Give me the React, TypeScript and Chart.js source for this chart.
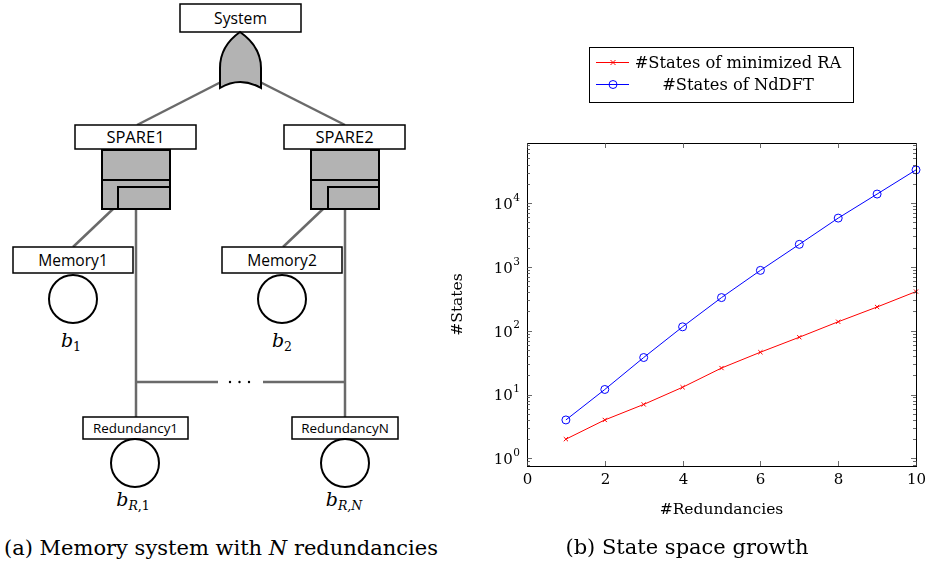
import React, { useEffect, useRef } from "react";
import { Chart, registerables } from "chart.js";

Chart.register(...registerables);

const redundancies = [1, 2, 3, 4, 5, 6, 7, 8, 9, 10];
const statesMinimizedRA = [2, 4, 7, 13, 26, 46, 79, 138, 235, 410];
const statesNdDFT = [4, 12, 38, 115, 330, 880, 2250, 5800, 13800, 33000];
const xTickValues = [0, 2, 4, 6, 8, 10];
const yDecades = [0, 1, 2, 3, 4];
const seriesLabels = ["#States of minimized RA", "#States of NdDFT"];

const SERIF = '"DejaVu Serif", serif';
const SANS = '"Open Sans", "DejaVu Sans", sans-serif';

const decorPlugin = {
  id: "decor",
  afterDraw(chart: any) {
    const ctx = chart.ctx as CanvasRenderingContext2D;
    const { left, right, top, bottom } = chart.chartArea;
    const xs = chart.scales.x;
    const ys = chart.scales.y;
    ctx.save();
    // frame
    ctx.strokeStyle = "#000";
    ctx.lineWidth = 1;
    ctx.strokeRect(Math.round(left) + 0.5, Math.round(top) + 0.5, Math.round(right - left), Math.round(bottom - top));
    // x ticks
    ctx.strokeStyle = "#444";
    ctx.lineWidth = 0.8;
    ctx.fillStyle = "#000";
    ctx.font = `15px ${SERIF}`;
    ctx.textAlign = "center";
    ctx.textBaseline = "middle";
    for (const v of xTickValues) {
      const px = Math.round(xs.getPixelForValue(v)) + 0.5;
      ctx.beginPath();
      ctx.moveTo(px, bottom);
      ctx.lineTo(px, bottom - 5);
      ctx.moveTo(px, top);
      ctx.lineTo(px, top + 5);
      ctx.stroke();
      ctx.fillText(String(v), px, bottom + 14);
    }
    // y ticks
    const yMin = ys.min;
    const yMax = ys.max;
    for (let d = -1; d <= 5; d++) {
      for (let m = 1; m <= 9; m++) {
        const v = m * Math.pow(10, d);
        if (v < yMin || v > yMax) continue;
        const py = Math.round(ys.getPixelForValue(v)) + 0.5;
        const len = m === 1 ? 5 : 3;
        ctx.beginPath();
        ctx.moveTo(left, py);
        ctx.lineTo(left + len, py);
        ctx.moveTo(right, py);
        ctx.lineTo(right - len, py);
        ctx.stroke();
      }
    }
    for (const d of yDecades) {
      const py = ys.getPixelForValue(Math.pow(10, d));
      ctx.font = `10.5px ${SERIF}`;
      ctx.textAlign = "right";
      const expW = ctx.measureText(String(d)).width;
      ctx.fillText(String(d), left - 7, py - 5);
      ctx.font = `15px ${SERIF}`;
      ctx.fillText("10", left - 7 - expW - 0.5, py + 2);
    }
    // axis titles
    ctx.textAlign = "center";
    ctx.font = `15.5px ${SERIF}`;
    ctx.fillText("#Redundancies", (left + right) / 2, 510);
    ctx.save();
    ctx.translate(458 - 440, (top + bottom) / 2);
    ctx.rotate(-Math.PI / 2);
    ctx.fillText("#States", 0, 0);
    ctx.restore();
    // caption
    ctx.font = `21px ${SERIF}`;
    ctx.fillText("(b) State space growth", 687 - 440, 549);
    // legend
    const lx = 589 - 440, ly = 47, lw = 264, lh = 55;
    ctx.strokeStyle = "#000";
    ctx.lineWidth = 1;
    ctx.fillStyle = "#fff";
    ctx.fillRect(lx, ly, lw, lh);
    ctx.strokeRect(lx + 0.5, ly + 0.5, lw, lh);
    const rows = [62, 84];
    chart.data.datasets.forEach((ds: any, i: number) => {
      const ry = rows[i] + 0.5;
      ctx.strokeStyle = ds.borderColor;
      ctx.lineWidth = 1;
      ctx.beginPath();
      ctx.moveTo(596 - 440, ry);
      ctx.lineTo(629 - 440, ry);
      ctx.stroke();
      const mx = 613 - 440;
      if (ds.pointStyle === "crossRot") {
        const r = 2.5;
        ctx.beginPath();
        ctx.moveTo(mx - r, ry - r);
        ctx.lineTo(mx + r, ry + r);
        ctx.moveTo(mx - r, ry + r);
        ctx.lineTo(mx + r, ry - r);
        ctx.stroke();
      } else {
        ctx.beginPath();
        ctx.arc(mx, ry, 4, 0, Math.PI * 2);
        ctx.stroke();
      }
      ctx.fillStyle = "#000";
      ctx.font = `16.3px ${SERIF}`;
      ctx.textAlign = "center";
      ctx.fillText(ds.label, 738 - 440, ry + 1);
    });
    ctx.restore();
  },
};

function StateChart() {
  const ref = useRef<HTMLCanvasElement | null>(null);
  useEffect(() => {
    if (!ref.current) return;
    const chart = new Chart(ref.current, {
      type: "line",
      data: {
        datasets: [
          {
            label: seriesLabels[0],
            data: redundancies.map((x, i) => ({ x, y: statesMinimizedRA[i] })),
            borderColor: "#ff0000",
            backgroundColor: "#ff0000",
            borderWidth: 1,
            pointStyle: "crossRot",
            pointRadius: 3,
            pointBorderWidth: 1,
            pointBorderColor: "#ff0000",
            clip: false,
          } as any,
          {
            label: seriesLabels[1],
            data: redundancies.map((x, i) => ({ x, y: statesNdDFT[i] })),
            borderColor: "#0000ff",
            backgroundColor: "rgba(0,0,0,0)",
            borderWidth: 1,
            pointStyle: "circle",
            pointRadius: 4,
            pointBorderWidth: 1,
            pointBorderColor: "#0000ff",
            pointBackgroundColor: "rgba(0,0,0,0)",
            clip: false,
          } as any,
        ],
      },
      options: {
        animation: false,
        responsive: false,
        devicePixelRatio: 1,
        layout: { padding: { left: 87, right: 11, top: 143, bottom: 99 } },
        plugins: { legend: { display: false }, tooltip: { enabled: false } },
        scales: {
          x: { type: "linear", min: 0, max: 10, display: false },
          y: { type: "logarithmic", min: 0.76, max: 87000, display: false },
        },
      },
      plugins: [decorPlugin],
    });
    return () => chart.destroy();
  }, []);
  return (
    <canvas
      ref={ref}
      width={487}
      height={565}
      style={{ position: "absolute", left: 440, top: 0, width: 487, height: 565 }}
    />
  );
}

function FaultTree() {
  const g = "#6a6a6a";
  const box = (x: number, y: number, w: number, h: number, label: string, fs: number) => (
    <g>
      <rect x={x} y={y} width={w} height={h} fill="#fff" stroke="#000" strokeWidth={1.5} />
      <text x={x + w / 2} y={y + h / 2 + fs * 0.36} fontSize={fs} fontFamily={SANS} textAnchor="middle" fill="#000">
        {label}
      </text>
    </g>
  );
  const spare = (x: number, lx: number) => (
    <g>
      <rect x={x} y={150} width={68} height={59} fill="#b3b3b3" stroke="#000" strokeWidth={2} />
      <line x1={x} y1={180} x2={x + 68} y2={180} stroke="#000" strokeWidth={2} />
      <polyline points={`${lx},209 ${lx},187 ${x + 68},187`} fill="none" stroke="#000" strokeWidth={2} />
    </g>
  );
  const bLabel = (x: number, y: number, subItalic: string, subRest: string) => (
    <text x={x} y={y} fontSize={19} fontFamily={SERIF} fontStyle="italic" textAnchor="middle" fill="#000">
      b
      <tspan fontSize={12.5} dy={4}>
        <tspan fontStyle="italic">{subItalic}</tspan>
        <tspan fontStyle={subRest.indexOf("N") >= 0 ? "italic" : "normal"}>{subRest}</tspan>
      </tspan>
    </text>
  );
  return (
    <svg width={440} height={565} style={{ position: "absolute", left: 0, top: 0 }}>
      {/* connecting lines */}
      <g stroke={g} strokeWidth={2.5} fill="none">
        <line x1={221} y1={82} x2={137} y2={125} />
        <line x1={260} y1={82} x2={345} y2={125} />
        <line x1={113} y1={209} x2={73} y2={247} />
        <line x1={323} y1={209} x2={283} y2={247} />
        <line x1={136} y1={209} x2={136} y2={417} />
        <line x1={345} y1={209} x2={345} y2={417} />
        <line x1={136} y1={382} x2={218} y2={382} />
        <line x1={263} y1={382} x2={345} y2={382} />
      </g>
      <g fill="#000">
        <circle cx={230} cy={382} r={1.2} />
        <circle cx={239.5} cy={382} r={1.2} />
        <circle cx={249} cy={382} r={1.2} />
      </g>
      {box(180, 4, 121, 28, "System", 15.7)}
      <path
        d="M220,88 L220,68 C220,50 230,39 240,32 C250,39 261,50 261,68 L261,88 Q240,76 220,88 Z"
        fill="#b3b3b3"
        stroke="#000"
        strokeWidth={2}
      />
      {box(75, 125, 121, 24, "SPARE1", 16.5)}
      {box(284, 125, 121, 24, "SPARE2", 16.5)}
      {spare(102, 118)}
      {spare(311, 328)}
      {box(13, 247, 120, 26, "Memory1", 15.6)}
      {box(222, 247, 120, 26, "Memory2", 15.6)}
      <circle cx={73} cy={299} r={24} fill="#fff" stroke="#000" strokeWidth={2} />
      <circle cx={282} cy={299} r={24} fill="#fff" stroke="#000" strokeWidth={2} />
      {bLabel(71, 347, "", "1")}
      {bLabel(282, 347, "", "2")}
      {box(83, 417, 105, 22, "Redundancy1", 13.4)}
      {box(292, 417, 106, 22, "RedundancyN", 13.4)}
      <circle cx={135} cy={463} r={24} fill="#fff" stroke="#000" strokeWidth={2} />
      <circle cx={345} cy={463} r={24} fill="#fff" stroke="#000" strokeWidth={2} />
      {bLabel(133, 506, "R", ",1")}
      {bLabel(344, 506, "R", ",N")}
      <text x={221} y={555} fontSize={21} fontFamily={SERIF} textAnchor="middle" fill="#000">
        (a) Memory system with <tspan fontStyle="italic">N</tspan> redundancies
      </text>
    </svg>
  );
}

export default function App() {
  return (
    <div style={{ position: "fixed", left: 0, top: 0, width: 927, height: 565, background: "#fff", overflow: "hidden" }}>
      <FaultTree />
      <StateChart />
    </div>
  );
}
